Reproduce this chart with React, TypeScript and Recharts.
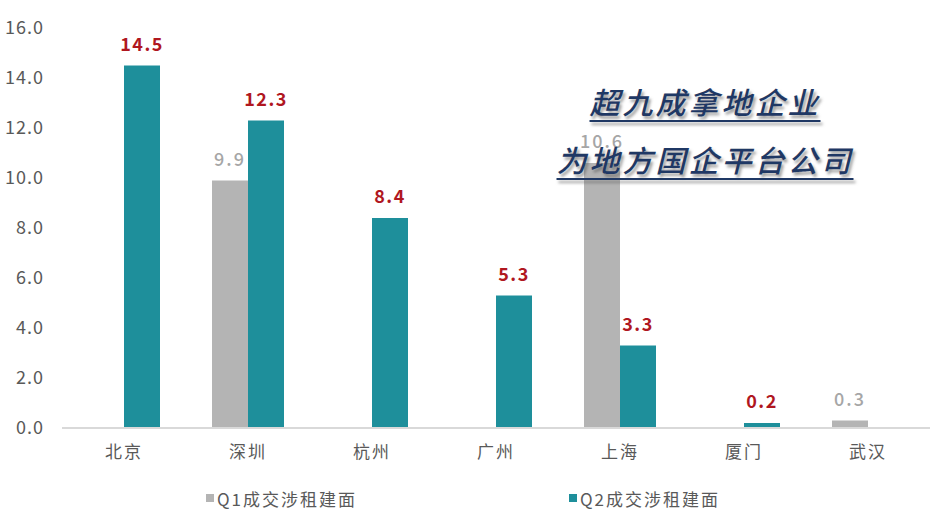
import { BarChart, Bar, XAxis, YAxis, LabelList, Legend } from "recharts";

const cities = ["北京", "深圳", "杭州", "广州", "上海", "厦门", "武汉"];
const q1Values = [null, 9.9, null, null, 10.6, null, 0.3];
const q2Values = [14.5, 12.3, 8.4, 5.3, 3.3, 0.2, null];
const yTicks = [0, 2, 4, 6, 8, 10, 12, 14, 16];
const seriesNames = ["Q1成交涉租建面", "Q2成交涉租建面"];
const titleLines = ["超九成拿地企业", "为地方国企平台公司"];

const GREY = "#B4B4B4";
const TEAL = "#1E8F9B";
const RED = "#B0171F";
const FONT = "'Noto Sans CJK SC', 'Noto Sans', sans-serif";

const data = cities.map((city, i) => ({ city, q1: q1Values[i], q2: q2Values[i] }));

function LegendBox() {
  const colors = [GREY, TEAL];
  return (
    <div style={{ display: "flex", justifyContent: "center", gap: 212, height: 30, alignItems: "center", paddingRight: 4 }}>
      {seriesNames.map((name, i) => (
        <div key={name} style={{ display: "flex", alignItems: "center", fontFamily: FONT, fontSize: 17, color: "#595959", letterSpacing: 2 }}>
          <span style={{ width: 8, height: 8, background: colors[i], display: "inline-block", marginRight: 3 }} />
          {name}
        </div>
      ))}
    </div>
  );
}

export default function App() {
  return (
    <div style={{ position: "absolute", left: 0, top: 0, width: 932, height: 513, background: "#fff" }}>
      <BarChart
        width={932}
        height={513}
        data={data}
        margin={{ top: 28, right: 2, left: 0, bottom: 0 }}
        barGap={0}
        barCategoryGap={26}
      >
        <XAxis
          dataKey="city"
          height={55}
          tickLine={false}
          tickSize={0}
          tickMargin={18}
          axisLine={{ stroke: "#D9D9D9", strokeWidth: 2 }}
          tick={{ fill: "#595959", fontSize: 17, fontFamily: FONT, letterSpacing: 2 }}
        />
        <YAxis
          domain={[0, 16]}
          ticks={yTicks}
          width={62}
          axisLine={false}
          tickLine={false}
          tickSize={0}
          tickMargin={18}
          tickFormatter={(v: number) => v.toFixed(1)}
          tick={{ fill: "#595959", fontSize: 18, fontFamily: FONT, letterSpacing: 1 }}
        />
        <Legend verticalAlign="bottom" content={() => <LegendBox />} />
        <Bar dataKey="q1" name={seriesNames[0]} fill={GREY} isAnimationActive={false}>
          <LabelList
            dataKey="q1"
            position="top"
            offset={15}
            formatter={(v: any) => (v == null ? "" : Number(v).toFixed(1))}
            style={{ fill: "#A6A6A6", fontSize: 18, fontWeight: 500, fontFamily: FONT, letterSpacing: 2 }}
          />
        </Bar>
        <Bar dataKey="q2" name={seriesNames[1]} fill={TEAL} isAnimationActive={false}>
          <LabelList
            dataKey="q2"
            position="top"
            offset={15}
            formatter={(v: any) => (v == null ? "" : Number(v).toFixed(1))}
            style={{ fill: RED, fontSize: 18, fontWeight: 700, fontFamily: FONT, letterSpacing: 1.5 }}
          />
        </Bar>
      </BarChart>
      <div
        style={{
          position: "absolute",
          left: 540,
          top: 72,
          width: 330,
          textAlign: "center",
          fontFamily: FONT,
          fontStyle: "italic",
          fontSize: 30,
          fontWeight: 500,
          color: "#1F3864",
          textShadow: "2px 3px 3px rgba(90,90,90,0.6)",
          lineHeight: "58px",
          letterSpacing: 3,
        }}
      >
        {titleLines.map((t) => (
          <div key={t} style={{ textDecoration: "underline", textDecorationThickness: 2, textUnderlineOffset: 6 }}>
            {t}
          </div>
        ))}
      </div>
    </div>
  );
}
